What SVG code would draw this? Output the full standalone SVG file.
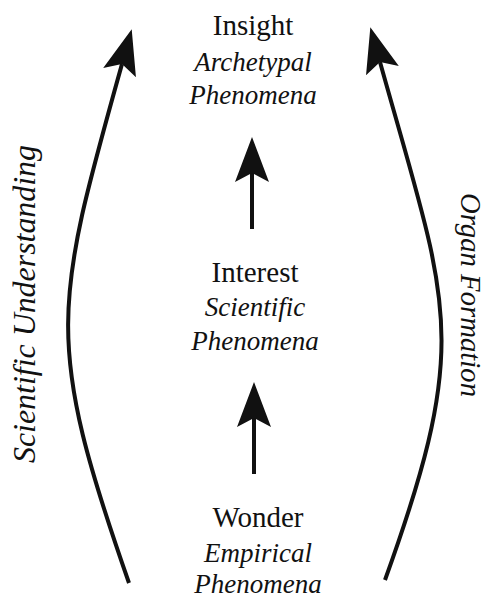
<svg xmlns="http://www.w3.org/2000/svg" width="488" height="598" viewBox="0 0 488 598">
  <style>
    text { font-family: "Liberation Serif", "Times New Roman", "DejaVu Serif", "Noto Serif", FreeSerif, Georgia, serif; fill: #111; }
    .title { font-size: 29px; text-anchor: middle; }
    .sub { font-style: italic; font-size: 27px; text-anchor: middle; }
    .side { font-style: italic; font-size: 32px; }
    .conn { fill: none; stroke: #111; stroke-width: 4; }
  </style>
  <defs>
    <marker id="ah" markerUnits="userSpaceOnUse" viewBox="0 0 50 40" markerWidth="50" markerHeight="40" refX="9" refY="20" orient="auto" overflow="visible">
      <path d="M0,3 L9,20 L0,37 L45,20 Z" fill="#111"/>
    </marker>
  </defs>
  <rect x="0" y="0" width="488" height="598" fill="#fff"/>

  <g id="connectors">
    <path class="conn" d="M129,583 C44,340 54,307 122,64" marker-end="url(#ah)"/>
    <path class="conn" d="M385,580 C473,336 448,306 380,62" marker-end="url(#ah)"/>
    <path class="conn" d="M252,229 L252,173" marker-end="url(#ah)"/>
    <path class="conn" d="M254,474 L254,418" marker-end="url(#ah)"/>
  </g>

  <g id="insight">
    <text class="title" x="253" y="35">Insight</text>
    <text class="sub" x="253" y="71">Archetypal</text>
    <text class="sub" x="253" y="104">Phenomena</text>
  </g>
  <g id="interest">
    <text class="title" x="255" y="282">Interest</text>
    <text class="sub" x="255" y="316">Scientific</text>
    <text class="sub" x="255" y="350">Phenomena</text>
  </g>
  <g id="wonder">
    <text class="title" x="258" y="527">Wonder</text>
    <text class="sub" x="258" y="562">Empirical</text>
    <text class="sub" x="258" y="593">Phenomena</text>
  </g>

  <g id="side-labels">
    <text class="side" transform="translate(35,463) rotate(-90)" textLength="318" lengthAdjust="spacingAndGlyphs">Scientific Understanding</text>
    <text class="side" transform="translate(461,193) rotate(90)" textLength="204" lengthAdjust="spacingAndGlyphs" style="font-size:29px">Organ Formation</text>
  </g>
</svg>
